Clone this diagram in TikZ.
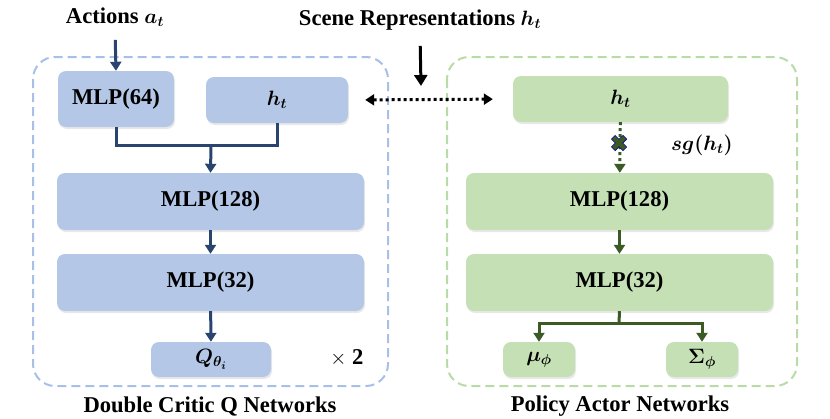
\documentclass[tikz,border=0pt]{standalone}
\usepackage{fontspec}
\usepackage{amsmath}
\usepackage{amssymb}
\setmainfont{Liberation Serif}
\usetikzlibrary{arrows.meta, positioning, shadows}
\definecolor{bluebox}{HTML}{B4C7E7}
\definecolor{blueline}{HTML}{2A4470}
\definecolor{bluedash}{HTML}{A6C0E8}
\definecolor{greenbox}{HTML}{C5E0B4}
\definecolor{greenline}{HTML}{3B5A24}
\definecolor{greendash}{HTML}{B9DCA6}
\newcommand{\diagfont}{\fontsize{22.6}{27}\selectfont}

\tikzset{
  netbox/.style={rounded corners=8pt, inner sep=0pt, font=\diagfont\bfseries,
    drop shadow={opacity=0.18, shadow xshift=1pt, shadow yshift=-2pt}},
  critbox/.style={netbox, fill=bluebox},
  actbox/.style={netbox, fill=greenbox},
  groupbox/.style={rounded corners=22pt, line width=2pt, dash pattern=on 9pt off 5pt},
  critflow/.style={draw=blueline, line width=3pt, -{Triangle[length=9pt, width=11pt]}},
  actflow/.style={draw=greenline, line width=3pt, -{Triangle[length=9pt, width=11pt]}},
  title/.style={font=\diagfont\bfseries}
}

\begin{document}
\begin{tikzpicture}[x=1pt, y=-1pt, >=Stealth, font=\diagfont]
    \useasboundingbox (0,0) rectangle (830,418);

    % Dashed group frames
    \draw[groupbox, draw=bluedash] (33,57) rectangle (388,386);
    \draw[groupbox, draw=greendash] (447,57) rectangle (797,386);

    % Inputs
    \node[title] (actions) at (115,17) {Actions $\boldsymbol{a_t}$};
    \node[title] (scene) at (420,20) {Scene Representations $\boldsymbol{h_t}$};
    \coordinate (sceneEnd) at (421,86);

    % Critic networks
    \node[critbox, minimum width=116pt, minimum height=56pt] (mlp64) at (116,99) {MLP(64)};
    \node[critbox, minimum width=142pt, minimum height=46pt] (hCrit) at (277,100) {$\boldsymbol{h_t}$};
    \node[critbox, minimum width=307pt, minimum height=57pt] (critMlp128) at (210.5,201.5) {MLP(128)};
    \node[critbox, minimum width=307pt, minimum height=57pt] (critMlp32) at (210.5,282.5) {MLP(32)};
    \node[critbox, minimum width=120pt, minimum height=35pt] (qOut) at (211,359.5) {$\boldsymbol{Q_{\theta_i}}$};
    \node (twice) at (347,358) {$\times$ \textbf{2}};
    \node[title] (critLabel) at (210,406) {Double Critic Q Networks};
    \coordinate (join) at (211,145);

    % Actor networks
    \node[actbox, minimum width=215pt, minimum height=46pt] (hAct) at (620.5,99) {$\boldsymbol{h_t}$};
    \node[actbox, minimum width=307pt, minimum height=57pt] (actMlp128) at (619.5,201.5) {MLP(128)};
    \node[actbox, minimum width=307pt, minimum height=57pt] (actMlp32) at (619.5,282.5) {MLP(32)};
    \node[actbox, minimum width=72pt, minimum height=35pt] (mu) at (539,359.5) {$\boldsymbol{\mu_{\phi}}$};
    \node[actbox, minimum width=72pt, minimum height=35pt] (sigma) at (702,359.5) {$\boldsymbol{\Sigma_{\phi}}$};
    \node[title] (actLabel) at (620,406) {Policy Actor Networks};
    \node (stopGrad) at (702,145) {$\boldsymbol{sg(h_t)}$};
    \coordinate (split) at (619,323);
    \coordinate (cross) at (619,143);

    % Scene input arrows
    \draw[line width=3pt, -{Triangle[length=11pt, width=13pt]}, shorten <=12pt] (scene.south) -- (sceneEnd);
    \draw[line width=3pt, dash pattern=on 3pt off 3pt, {Triangle[length=9pt, width=11pt]}-{Triangle[length=9pt, width=11pt]},
      shorten <=17pt, shorten >=20pt] (hCrit.east) -- (hAct.west);

    % Critic flow
    \draw[critflow, shorten <=10pt] (actions.south) -- (mlp64.north);
    \draw[draw=blueline, line width=3pt] (mlp64.south) |- (join) -| (hCrit.south);
    \draw[critflow] (join) -- (critMlp128.north);
    \draw[critflow] (critMlp128) -- (critMlp32);
    \draw[critflow] (critMlp32) -- (qOut);

    % Actor flow
    \draw[actflow, dash pattern=on 3pt off 3pt] (hAct) -- (actMlp128);
    \draw[blue!60!black, line width=6pt] ([shift={(-6,-6)}]cross) -- ([shift={(6,6)}]cross)
      ([shift={(-6,6)}]cross) -- ([shift={(6,-6)}]cross);
    \draw[greenline, line width=4.5pt] ([shift={(-5.5,-5.5)}]cross) -- ([shift={(5.5,5.5)}]cross)
      ([shift={(-5.5,5.5)}]cross) -- ([shift={(5.5,-5.5)}]cross);
    \draw[actflow] (actMlp128) -- (actMlp32);
    \draw[draw=greenline, line width=3pt] (actMlp32.south) -- (split);
    \draw[actflow] (split) -| (mu.north);
    \draw[actflow] (split) -| (sigma.north);
\end{tikzpicture}
\end{document}
